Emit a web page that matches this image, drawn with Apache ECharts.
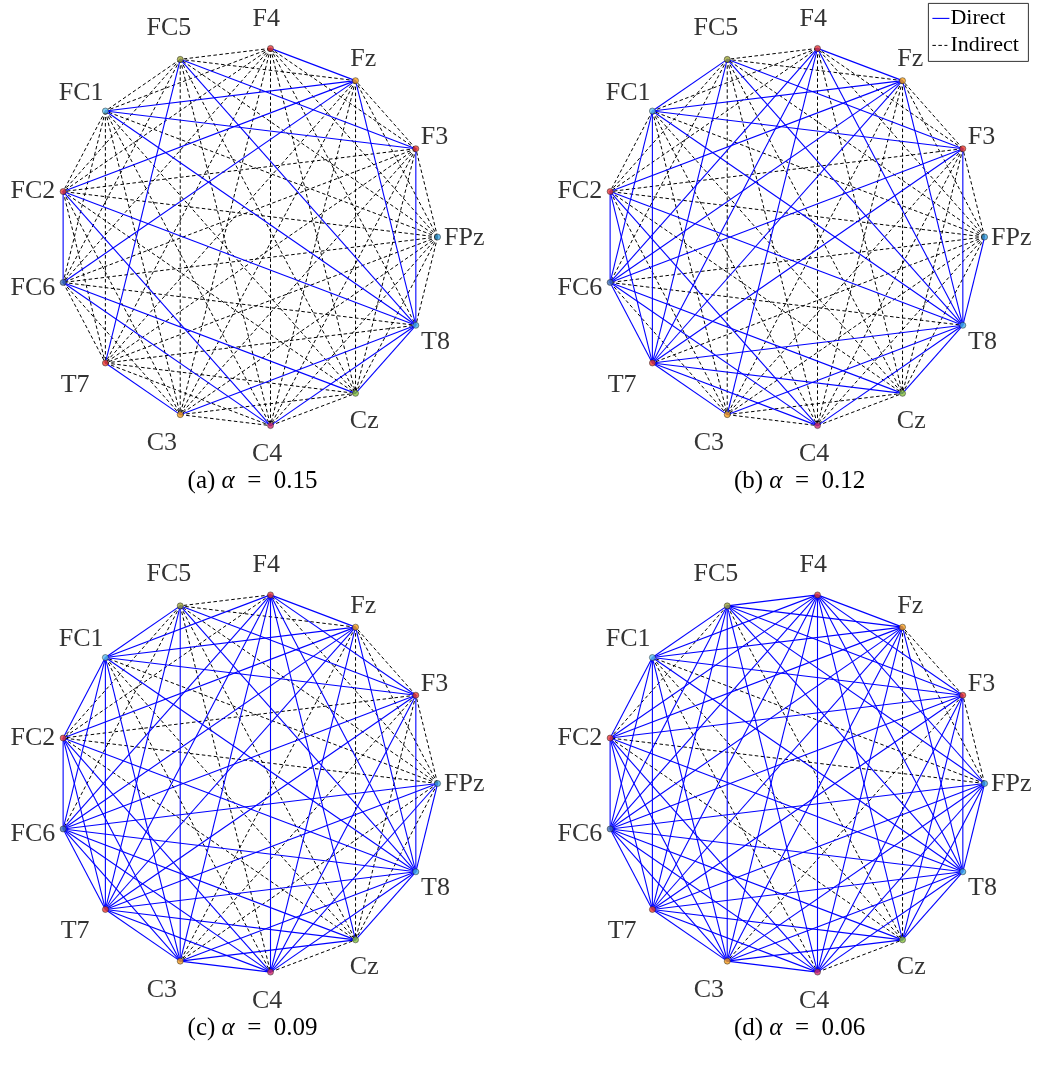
<!DOCTYPE html>
<html><head><meta charset="utf-8">
<script src="https://cdn.jsdelivr.net/npm/echarts@6/dist/echarts.min.js"></script>
<style>html,body{margin:0;padding:0;background:#fff}#c{width:1040px;height:1065px}</style>
</head><body><div id="c"></div>
<script>
// ---- data ----
const nodes = ['FPz','F3','Fz','F4','FC5','FC1','FC2','FC6','T7','C3','C4','Cz','T8'];
const nodeColors = ['#3da5e0','#ee3b2b','#f7a21b','#e43a3a','#a0a838','#5ec2ee','#e83a3a','#3f6fb5','#ef3b2b','#f59d1c','#cf2a6a','#86c13c','#45b0e6'];
const panelTags = ['(a)','(b)','(c)','(d)'];
const alphas = ['0.15','0.12','0.09','0.06'];
const directA = [['FC2','FC6'],['FC2','Fz'],['FC2','T8'],['FC2','C4'],['FC1','Fz'],['FC1','F3'],['FC1','T8'],['FC5','F3'],['FC5','T8'],['FC5','T7'],['F4','Fz'],['Fz','T8'],['F3','T8'],['FC6','Fz'],['FC6','Cz'],['FC6','C4'],['T7','C3'],['C3','T8'],['C4','T8'],['Cz','T8']];
const addedB = [['FC5','FC1'],['FC1','T7'],['FC1','FC6'],['FC2','T7'],['FC6','T7'],['T7','T8'],['T7','Cz'],['T7','C4'],['T7','F3'],['T7','Fz'],['T7','F4'],['F4','T8'],['FPz','T8'],['F4','FC6'],['FC6','F3'],['F4','C3']];
const addedC = [['FC5','C3'],['F4','C4'],['FC1','FC2'],['FC1','C3'],['F4','FC1'],['FC2','C3'],['FC6','C3'],['FC6','FPz'],['FC6','T8'],['C3','C4'],['C3','Cz'],['F4','F3'],['F4','Cz'],['FPz','C4'],['FPz','T7'],['Fz','C4'],['F3','C4']];
const indirectD = [['Fz','Cz'],['C4','Cz'],['Fz','FPz'],['F3','FPz'],['FC1','FPz'],['FC2','FPz'],['FC1','Cz'],['FC5','Cz'],['F3','C3'],['FC2','Cz'],['FC1','C4'],['Fz','F3'],['FC5','FC2']];

// ---- build ----
const directB = directA.concat(addedB);
const directC = directB.concat(addedC);
const centers = [[247.6,237],[794.6,237],[247.6,783.5],[794.6,783.5]];
const R = 190;
const serif = 'Liberation Serif, Times New Roman, serif';
const labelOffset = {FPz:[27,1], F3:[19,-11], Fz:[8,-21], F4:[-4,-29], FC5:[-11,-31], FC1:[-24,-18], FC2:[-30,0], FC6:[-30,6], T7:[-30,22], C3:[-18,29], C4:[-3,29], Cz:[9,28], T8:[20,17]};
const idx = n => nodes.indexOf(n);
const key = (a, b) => a < b ? a + '-' + b : b + '-' + a;

function splitEdges(list, listIsDirect) {
  const set = new Set(list.map(e => key(idx(e[0]), idx(e[1]))));
  const d = [], ind = [];
  for (let i = 0; i < nodes.length; i++)
    for (let j = i + 1; j < nodes.length; j++)
      ((set.has(key(i, j)) === listIsDirect) ? d : ind).push([1, i, j]);
  return {d, ind};
}
const edgeSets = [splitEdges(directA, true), splitEdges(directB, true), splitEdges(directC, true), splitEdges(indirectD, false)];

function edgeRender(style) {
  return function (params, api) {
    const p1 = api.coord([api.value(0), api.value(1)]);
    const p2 = api.coord([api.value(0), api.value(2)]);
    return {type: 'line', shape: {x1: p1[0], y1: p1[1], x2: p2[0], y2: p2[1]}, style: style, silent: true};
  };
}

const polar = [], angleAxis = [], radiusAxis = [], series = [], title = [];
edgeSets.forEach((e, p) => {
  polar.push({center: centers[p], radius: R});
  angleAxis.push({
    polarIndex: p, type: 'category', data: nodes, startAngle: 0, clockwise: false, boundaryGap: false,
    axisLine: {show: false}, axisTick: {show: false}, splitLine: {show: false}, axisLabel: {show: false}
  });
  radiusAxis.push({polarIndex: p, min: 0, max: 1, axisLine: {show: false}, axisTick: {show: false}, axisLabel: {show: false}, splitLine: {show: false}});
  series.push({type: 'custom', coordinateSystem: 'polar', polarIndex: p, data: e.ind, z: 1,
    renderItem: edgeRender({stroke: '#000', lineWidth: 1, lineDash: [3.5, 2.5], fill: null})});
  series.push({type: 'custom', coordinateSystem: 'polar', polarIndex: p, data: e.d, z: 2,
    renderItem: edgeRender({stroke: '#0000ff', lineWidth: 1.1, fill: null})});
  series.push({type: 'scatter', coordinateSystem: 'polar', polarIndex: p, z: 3, symbolSize: 6,
    data: nodes.map((n, i) => ({
      value: [1, i], name: n, itemStyle: {color: nodeColors[i]},
      label: {offset: labelOffset[n]}
    })),
    itemStyle: {borderColor: '#222', borderWidth: 0.6},
    label: {show: true, position: [3, 3], formatter: '{b}', fontFamily: serif, fontSize: 26, color: '#000',
      textBorderWidth: 0, align: 'center', verticalAlign: 'middle'}
  });
  title.push({
    text: '{n|' + panelTags[p] + ' }{a|α}{n|  =  ' + alphas[p] + '}',
    left: centers[p][0], top: centers[p][1] + 227, textAlign: 'center',
    textStyle: {fontWeight: 'normal', rich: {
      n: {fontFamily: serif, fontSize: 25, fontWeight: 'normal', color: '#000'},
      a: {fontFamily: serif, fontSize: 25, fontWeight: 'normal', fontStyle: 'italic', color: '#000'}}}
  });
});

const chart = echarts.init(document.getElementById('c'), null, {renderer: 'canvas'});
chart.setOption({
  animation: false,
  backgroundColor: '#fff',
  title: title,
  polar: polar, angleAxis: angleAxis, radiusAxis: radiusAxis, series: series,
  graphic: [{
    type: 'group', left: 928, top: 3,
    children: [
      {type: 'rect', shape: {x: 0, y: 0, width: 100, height: 58}, style: {fill: '#fff', stroke: '#000', lineWidth: 0.8}},
      {type: 'line', shape: {x1: 4, y1: 15, x2: 21, y2: 15}, style: {stroke: '#0000ff', lineWidth: 1.1}},
      {type: 'text', x: 22, y: 15, style: {text: 'Direct', fontFamily: serif, fontSize: 22, fill: '#000', verticalAlign: 'middle'}},
      {type: 'line', shape: {x1: 4, y1: 42, x2: 19, y2: 42}, style: {stroke: '#000', lineWidth: 1, lineDash: [3.5, 2.5]}},
      {type: 'text', x: 22, y: 42, style: {text: 'Indirect', fontFamily: serif, fontSize: 22, fill: '#000', verticalAlign: 'middle'}}
    ]
  }]
});
</script></body></html>
